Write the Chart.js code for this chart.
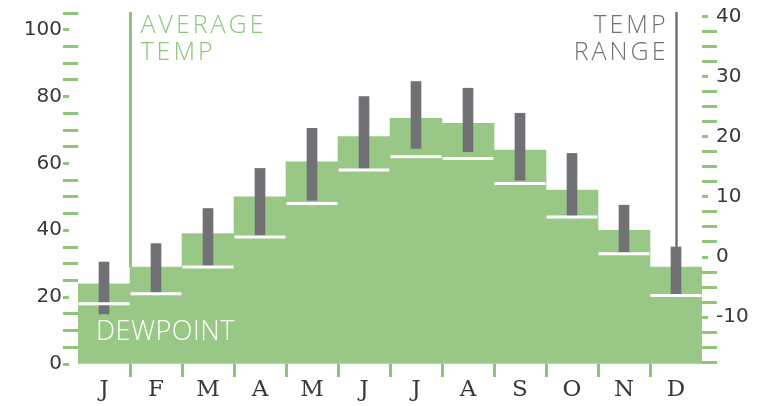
<!DOCTYPE html>
<html lang="en">
<head>
<meta charset="UTF-8">
<title>Average Temp</title>
<script src="https://cdn.jsdelivr.net/npm/chart.js"></script>
<style>
  html, body { margin: 0; padding: 0; background: #fff; }
</style>
</head>
<body>
<canvas id="tempChart" width="768" height="406"></canvas>
<script>
    // Monthly values, degrees F
    const months = ['J', 'F', 'M', 'A', 'M', 'J', 'J', 'A', 'S', 'O', 'N', 'D'];
    const avgTemp = [24, 29, 39, 50, 60.5, 68, 73.5, 72, 64, 52, 40, 29];
    const dewpoint = [18, 21, 29, 38, 48, 58, 62, 61.5, 54, 44, 33, 20.5];
    const rangeLow = [15, 21.5, 29, 38.5, 49, 58.5, 64.5, 63.5, 55, 44, 33.5, 21];
    const rangeHigh = [30.5, 36, 46.5, 58.5, 70.5, 80, 84.5, 82.5, 75, 63, 47.5, 35];

    // Axis tick labels (F on the left, C on the right)
    const leftLabels = [0, 20, 40, 60, 80, 100];
    const rightLabels = [-10, 0, 10, 20, 30, 40];

    const green = '#99c886';
    const tickGreen = '#8dc67b';
    const gray = '#717075';
    const labelColor = '#383838';

    const fMax = 105;
    const fToC = f => (f - 32) * 5 / 9;

    const leftTicks = [];
    for (let v = 0; v <= fMax; v += 5) leftTicks.push(v);
    const rightTicks = [];
    for (let v = -17.5; v <= 40; v += 2.5) rightTicks.push(v);

    const isLabel = (list, v) => list.some(l => Math.abs(l - v) < 0.01);

    // short dash on labelled ticks, full length on the rest
    function tickDash(list) {
        return c => (c.tick && isLabel(list, c.tick.value)) ? [6, 40] : [];
    }

    // Text notes and pointer lines
    const notes = {
        id: 'notes',
        afterDatasetsDraw(chart) {
            const { ctx, chartArea, scales } = chart;
            const x = scales.x, y = scales.y;
            ctx.save();
            ctx.lineWidth = 3;

            // average temp pointer, on the left edge of the February bar
            const fx = Math.round((x.getPixelForValue(0) + x.getPixelForValue(1)) / 2) + 0.5;
            ctx.strokeStyle = tickGreen;
            ctx.beginPath();
            ctx.moveTo(fx, chartArea.top - 1);
            ctx.lineTo(fx, y.getPixelForValue(avgTemp[1]));
            ctx.stroke();

            // temp range pointer, above the December bar
            const dx = Math.round(x.getPixelForValue(11)) + 0.5;
            ctx.strokeStyle = gray;
            ctx.lineWidth = 2.5;
            ctx.beginPath();
            ctx.moveTo(dx, chartArea.top - 1);
            ctx.lineTo(dx, y.getPixelForValue(rangeHigh[11]));
            ctx.stroke();

            ctx.font = '300 25px "Open Sans"';
            ctx.letterSpacing = '3px';
            ctx.textBaseline = 'alphabetic';
            ctx.fillStyle = tickGreen;
            ctx.textAlign = 'left';
            ctx.fillText('AVERAGE', fx + 10, 33);
            ctx.fillText('TEMP', fx + 10, 60);

            ctx.fillStyle = gray;
            ctx.textAlign = 'right';
            ctx.fillText('TEMP', dx - 8, 33);
            ctx.fillText('RANGE', dx - 8, 60);

            ctx.font = '300 27px "Open Sans"';
            ctx.letterSpacing = '0.5px';
            ctx.fillStyle = '#fff';
            ctx.textAlign = 'left';
            ctx.fillText('DEWPOINT', 96, 340);
            ctx.restore();
        }
    };

    const ctx = document.getElementById('tempChart').getContext('2d');
    const tempChart = new Chart(ctx, {
        type: 'bar',
        data: {
            labels: months,
            datasets: [{
                // dewpoint drawn as a flat marker across each month
                type: 'line',
                label: 'Dewpoint',
                data: dewpoint,
                showLine: false,
                pointStyle: 'line',
                pointRadius: 25.5,
                pointBorderWidth: 3,
                pointBorderColor: '#ffffff',
                pointBackgroundColor: '#ffffff',
                order: 0,
                yAxisID: 'y'
            }, {
                label: 'Temp range',
                data: rangeLow.map((lo, i) => [lo, rangeHigh[i]]),
                backgroundColor: gray,
                barThickness: 10,
                grouped: false,
                order: 1,
                yAxisID: 'y'
            }, {
                label: 'Average temp',
                data: avgTemp,
                backgroundColor: green,
                categoryPercentage: 1,
                barPercentage: 1,
                grouped: false,
                order: 2,
                yAxisID: 'y'
            }]
        },
        options: {
            responsive: false,
            animation: false,
            layout: { autoPadding: false, padding: { top: 13, left: 0, right: 0, bottom: 0 } },
            plugins: {
                legend: { display: false },
                tooltip: { enabled: false }
            },
            scales: {
                x: {
                    border: { display: false },
                    grid: {
                        drawOnChartArea: false,
                        offset: true,
                        tickLength: 13,
                        tickWidth: 3,
                        tickColor: c => c.index > 0 ? tickGreen : 'rgba(0,0,0,0)'
                    },
                    ticks: {
                        color: labelColor,
                        font: { family: 'DejaVu Serif', size: 23 },
                        padding: -1,
                        maxRotation: 0
                    },
                    afterFit: s => { s.height = 42; s.paddingLeft = 0; s.paddingRight = 0; }
                },
                y: {
                    position: 'left',
                    min: 0,
                    max: fMax,
                    border: { display: false },
                    grid: {
                        drawOnChartArea: false,
                        tickLength: 15,
                        tickWidth: 3,
                        tickColor: tickGreen,
                        tickBorderDash: tickDash(leftLabels)
                    },
                    afterBuildTicks: s => { s.ticks = leftTicks.map(v => ({ value: v })); },
                    ticks: {
                        autoSkip: false,
                        padding: 1,
                        color: labelColor,
                        font: { family: 'DejaVu Sans', size: 20 },
                        callback: v => isLabel(leftLabels, v) ? String(v) : ''
                    },
                    afterFit: s => { s.width = 78; s.paddingTop = 0; s.paddingBottom = 0; }
                },
                y2: {
                    type: 'linear',
                    position: 'right',
                    min: fToC(0),
                    max: fToC(fMax),
                    border: { display: false },
                    grid: {
                        drawOnChartArea: false,
                        tickLength: 15,
                        tickWidth: 3,
                        tickColor: tickGreen,
                        tickBorderDash: tickDash(rightLabels)
                    },
                    afterBuildTicks: s => { s.ticks = rightTicks.map(v => ({ value: v })); },
                    ticks: {
                        autoSkip: false,
                        padding: -1,
                        color: labelColor,
                        font: { family: 'DejaVu Sans', size: 20 },
                        callback: v => isLabel(rightLabels, v) ? String(Math.round(v)) : ''
                    },
                    afterFit: s => { s.width = 66; s.paddingTop = 0; s.paddingBottom = 0; }
                }
            }
        },
        plugins: [notes]
    });
</script>
</body>
</html>
